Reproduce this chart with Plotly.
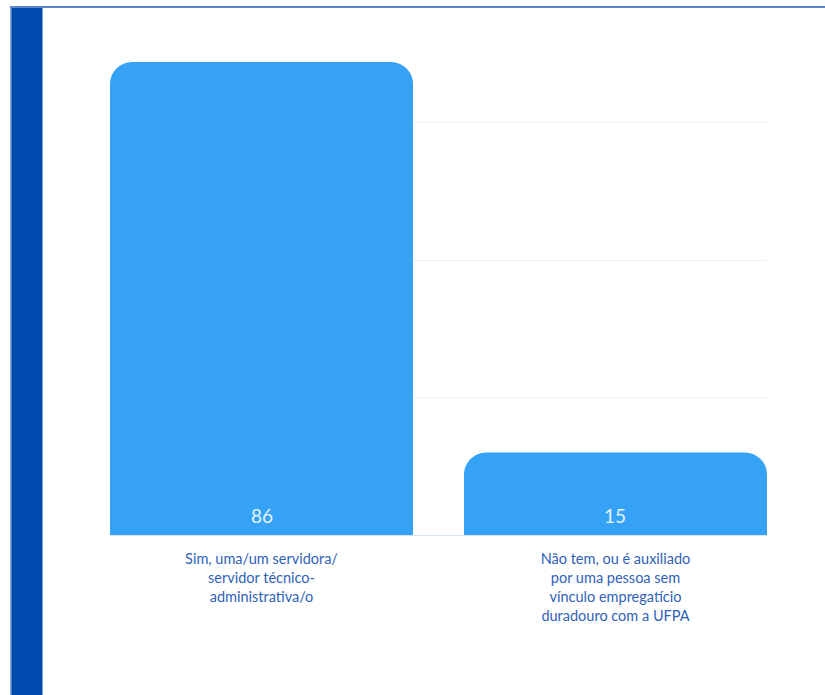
import plotly.graph_objects as go

# Survey answers and their counts
categories = [
    "Sim, uma/um servidora/<br>servidor técnico-<br>administrativa/o",
    "Não tem, ou é auxiliado<br>por uma pessoa sem<br>vínculo empregatício<br>duradouro com a UFPA",
]
counts = [86, 15]
y_ticks = [0, 25, 50, 75]

BAR_COLOR = "#36a2f5"
LABEL_COLOR = "#2f62b8"
FONT = "Lato"

# plot area in pixels (figure is 825 x 695)
W, H = 825, 695
L, R, T, B = 110, 58, 40, 160
y_max = 90


def px_x(p):
    return (p - L) / (W - L - R)


def px_y(p):
    return (H - B - p) / (H - B - T)


fig = go.Figure(
    go.Bar(
        x=[0, 1],
        y=counts,
        width=0.856,
        marker=dict(color=BAR_COLOR, line=dict(width=0)),
        hoverinfo="skip",
    )
)

# value labels sitting near the base of each bar
for i, v in enumerate(counts):
    fig.add_annotation(
        x=i, y=0, xref="x", yref="y",
        text=str(v), showarrow=False,
        yanchor="bottom", yshift=6,
        font=dict(family=FONT, size=19, color="#e6f2fd"),
    )

fig.update_layout(
    width=W,
    height=H,
    margin=dict(l=L, r=R, t=T, b=B, pad=0),
    paper_bgcolor="white",
    plot_bgcolor="white",
    barcornerradius=22,
    showlegend=False,
    font=dict(family=FONT),
    xaxis=dict(
        range=[-0.428, 1.428],
        tickmode="array",
        tickvals=[0, 1],
        ticktext=categories,
        tickfont=dict(family=FONT, size=14.5, color=LABEL_COLOR),
        showgrid=False,
        zeroline=False,
        showline=True,
        linecolor="#d8e5f6",
        linewidth=1,
        ticks="",
        ticklabelstandoff=11,
        fixedrange=True,
    ),
    yaxis=dict(
        range=[0, y_max],
        tickvals=y_ticks,
        showticklabels=False,
        showgrid=True,
        gridcolor="#edf1f8",
        gridwidth=1,
        zeroline=False,
        showline=False,
        ticks="",
        fixedrange=True,
    ),
    shapes=[
        # page frame: top rule
        dict(type="line", xref="paper", yref="paper",
             x0=px_x(10), x1=px_x(825), y0=px_y(7), y1=px_y(7),
             line=dict(color="#5a86c8", width=2)),
        # dark side band
        dict(type="rect", xref="paper", yref="paper",
             x0=px_x(11), x1=px_x(42.5), y0=px_y(8), y1=px_y(695),
             fillcolor="#004aad", line=dict(width=0)),
        dict(type="line", xref="paper", yref="paper",
             x0=px_x(11), x1=px_x(11), y0=px_y(8), y1=px_y(695),
             line=dict(color="#5f8fd3", width=1.5)),
    ],
)

fig.write_html("out.html")
